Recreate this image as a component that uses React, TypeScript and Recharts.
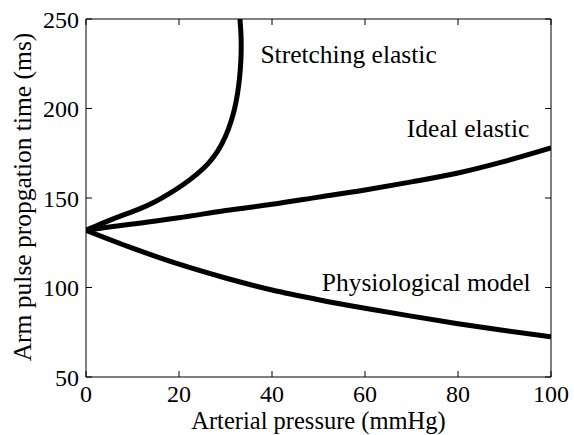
import React from 'react';
import { LineChart, Line, XAxis, YAxis, ReferenceDot } from 'recharts';

const xTicks = [0, 20, 40, 60, 80, 100];
const yTicks = [50, 100, 150, 200, 250];

const stretchingElastic = [
  { x: 0, y: 132 },
  { x: 4, y: 136.5 },
  { x: 8, y: 140.5 },
  { x: 11.7, y: 144 },
  { x: 15, y: 148 },
  { x: 18, y: 152.5 },
  { x: 21, y: 157.5 },
  { x: 24, y: 163.5 },
  { x: 26.5, y: 169.5 },
  { x: 28.5, y: 176.5 },
  { x: 30, y: 184 },
  { x: 31.2, y: 192.5 },
  { x: 32, y: 200 },
  { x: 32.6, y: 208 },
  { x: 33.0, y: 216 },
  { x: 33.3, y: 225 },
  { x: 33.4, y: 234 },
  { x: 33.35, y: 242 },
  { x: 33.1, y: 250 },
];

const idealElastic = [
  { x: 0, y: 132 },
  { x: 10, y: 135.5 },
  { x: 20, y: 139 },
  { x: 30, y: 143 },
  { x: 40, y: 146.5 },
  { x: 50, y: 150.5 },
  { x: 60, y: 154.5 },
  { x: 70, y: 159 },
  { x: 80, y: 164 },
  { x: 90, y: 170.5 },
  { x: 100, y: 178 },
];

const physiologicalModel = [
  { x: 0, y: 132 },
  { x: 10, y: 122 },
  { x: 20, y: 113 },
  { x: 30, y: 105.3 },
  { x: 40, y: 98.6 },
  { x: 50, y: 93.2 },
  { x: 60, y: 88.4 },
  { x: 70, y: 84 },
  { x: 80, y: 79.8 },
  { x: 90, y: 76 },
  { x: 100, y: 72.5 },
];

const annotations = [
  { text: 'Stretching elastic', x: 37.5, y: 225.3 },
  { text: 'Ideal elastic', x: 69.0, y: 184.2 },
  { text: 'Physiological model', x: 50.7, y: 98.2 },
];

const xTitle = 'Arterial pressure (mmHg)';
const yTitle = 'Arm pulse propgation time (ms)';

const FONT = "'Liberation Serif', 'Times New Roman', Times, serif";

const XTitle = (props: any) => {
  const { x, y, width } = props.viewBox;
  return (
    <text x={x + width / 2} y={y + 52} textAnchor="middle" fill="#000" fontSize={24.5} fontFamily={FONT}>
      {xTitle}
    </text>
  );
};

const YTitle = (props: any) => {
  const { y, height } = props.viewBox;
  const cx = 31;
  const cy = y + height / 2 - 1;
  return (
    <text x={cx} y={cy} transform={`rotate(-90, ${cx}, ${cy})`} textAnchor="middle" fill="#000" fontSize={25.5} fontFamily={FONT}>
      {yTitle}
    </text>
  );
};

export default function App() {
  const tickStyle = { fill: '#000', fontSize: 24, fontFamily: FONT };
  return (
    <div style={{ position: 'absolute', left: 0, top: 0, width: 574, height: 435, background: '#fff', fontFamily: FONT }}>
      <LineChart width={574} height={435} margin={{ top: 18, right: 22, bottom: 0, left: 0 }} style={{ fontFamily: FONT }}>
        <XAxis
          xAxisId="b"
          dataKey="x"
          type="number"
          domain={[0, 100]}
          ticks={xTicks}
          interval={0}
          allowDataOverflow
          height={58}
          tickSize={-6}
          tickMargin={14}
          tick={tickStyle}
          axisLine={{ stroke: '#000', strokeWidth: 1 }}
          tickLine={{ stroke: '#000', strokeWidth: 1 }}
          label={{ content: XTitle }}
        />
        <XAxis
          xAxisId="t"
          orientation="top"
          dataKey="x"
          type="number"
          domain={[0, 100]}
          ticks={xTicks}
          interval={0}
          allowDataOverflow
          height={1}
          tickSize={-6}
          tickFormatter={() => ''}
          axisLine={{ stroke: '#000', strokeWidth: 1 }}
          tickLine={{ stroke: '#000', strokeWidth: 1 }}
        />
        <YAxis
          yAxisId="l"
          type="number"
          domain={[50, 250]}
          ticks={yTicks}
          interval={0}
          allowDataOverflow
          width={86}
          tickSize={-6}
          tickMargin={13}
          tick={tickStyle}
          axisLine={{ stroke: '#000', strokeWidth: 1 }}
          tickLine={{ stroke: '#000', strokeWidth: 1 }}
          label={{ content: YTitle }}
        />
        <YAxis
          yAxisId="r"
          orientation="right"
          type="number"
          domain={[50, 250]}
          ticks={yTicks}
          interval={0}
          allowDataOverflow
          width={1}
          tickSize={-6}
          tickFormatter={() => ''}
          axisLine={{ stroke: '#000', strokeWidth: 1 }}
          tickLine={{ stroke: '#000', strokeWidth: 1 }}
        />
        <Line xAxisId="t" yAxisId="r" data={idealElastic} dataKey="y" type="linear" stroke="none" strokeWidth={0} dot={false} activeDot={false} legendType="none" isAnimationActive={false} />
        <Line xAxisId="b" yAxisId="l" data={stretchingElastic} dataKey="y" type="basis" stroke="#000" strokeWidth={5} dot={false} isAnimationActive={false} />
        <Line xAxisId="b" yAxisId="l" data={idealElastic} dataKey="y" type="monotone" stroke="#000" strokeWidth={5} dot={false} isAnimationActive={false} />
        <Line xAxisId="b" yAxisId="l" data={physiologicalModel} dataKey="y" type="monotone" stroke="#000" strokeWidth={5} dot={false} isAnimationActive={false} />
        {annotations.map((a) => (
          <ReferenceDot
            key={a.text}
            xAxisId="b"
            yAxisId="l"
            x={a.x}
            y={a.y}
            r={0}
            ifOverflow="visible"
            shape={(p: any) => (
              <text x={p.cx} y={p.cy} fill="#000" fontSize={25.5} fontFamily={FONT}>
                {a.text}
              </text>
            )}
          />
        ))}
      </LineChart>
    </div>
  );
}
